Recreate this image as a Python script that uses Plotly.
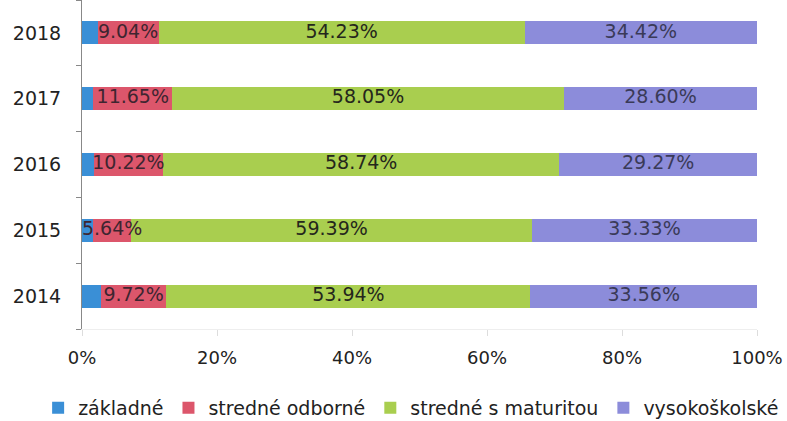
import plotly.graph_objects as go

years = ["2014", "2015", "2016", "2017", "2018"]
zakladne = [2.78, 1.64, 1.77, 1.70, 2.31]
odborne = [9.72, 5.64, 10.22, 11.65, 9.04]
maturita = [53.94, 59.39, 58.74, 58.05, 54.23]
vysoko = [33.56, 33.33, 29.27, 28.60, 34.42]
x_ticks = [0, 20, 40, 60, 80, 100]
x_labels = ["0%", "20%", "40%", "60%", "80%", "100%"]

FONT = "DejaVu Sans, sans-serif"

series = [
    ("základné", zakladne, "#3a8fd6", False, "#2b2b35"),
    ("stredné odborné", odborne, "#dc566b", True, "#3e2530"),
    ("stredné s maturitou", maturita, "#a9ce4f", True, "#24261c"),
    ("vysokoškolské", vysoko, "#8c8cda", True, "#3a3a58"),
]

fig = go.Figure()
for name, vals, color, show, tcol in series:
    fig.add_trace(go.Bar(
        y=years, x=vals, name=name, orientation="h",
        marker=dict(color=color, line=dict(width=0)),
        hoverinfo="x+name",
    ))

# data labels drawn on top of all bars, centred on each stacked segment
base = [0.0] * len(years)
for name, vals, color, show, tcol in series:
    centers = [b + v / 2 for b, v in zip(base, vals)]
    if show:
        fig.add_trace(go.Scatter(
            y=years, x=centers, mode="text",
            text=[f"{v:.2f}%" for v in vals],
            textposition="middle center",
            textfont=dict(family=FONT, size=19, color=tcol),
            showlegend=False, hoverinfo="skip", cliponaxis=False,
        ))
    base = [b + v for b, v in zip(base, vals)]

fig.update_layout(
    barmode="stack",
    bargap=0.65,
    width=787, height=421,
    margin=dict(l=82, r=30, t=0, b=92, autoexpand=False),
    plot_bgcolor="white", paper_bgcolor="white",
    font=dict(family=FONT, color="#222222"),
    showlegend=True,
    legend=dict(orientation="h", x=-0.065, xanchor="left",
                y=-0.24, yanchor="middle",
                font=dict(family=FONT, size=19, color="#222222"), traceorder="normal",
                itemwidth=30, tracegroupgap=0),
)
fig.update_xaxes(range=[0, 100], tickvals=x_ticks, ticktext=x_labels,
                 showgrid=False, zeroline=False, showline=True,
                 linecolor="#eeeeee", linewidth=1,
                 ticks="outside", ticklen=6, tickcolor="#dddddd",
                 ticklabelstandoff=6,
                 tickfont=dict(family=FONT, size=18, color="#222222"))
fig.update_yaxes(categoryorder="array", categoryarray=years,
                 showgrid=False, showline=True, linecolor="#888888", linewidth=1,
                 ticks="outside", tickson="boundaries", ticklen=5, tickcolor="#888888",
                 ticklabelstandoff=16,
                 tickfont=dict(family=FONT, size=19, color="#222222"))

fig.write_html("out.html", config={"displayModeBar": False},
               post_script="document.body.style.margin='0px';")
